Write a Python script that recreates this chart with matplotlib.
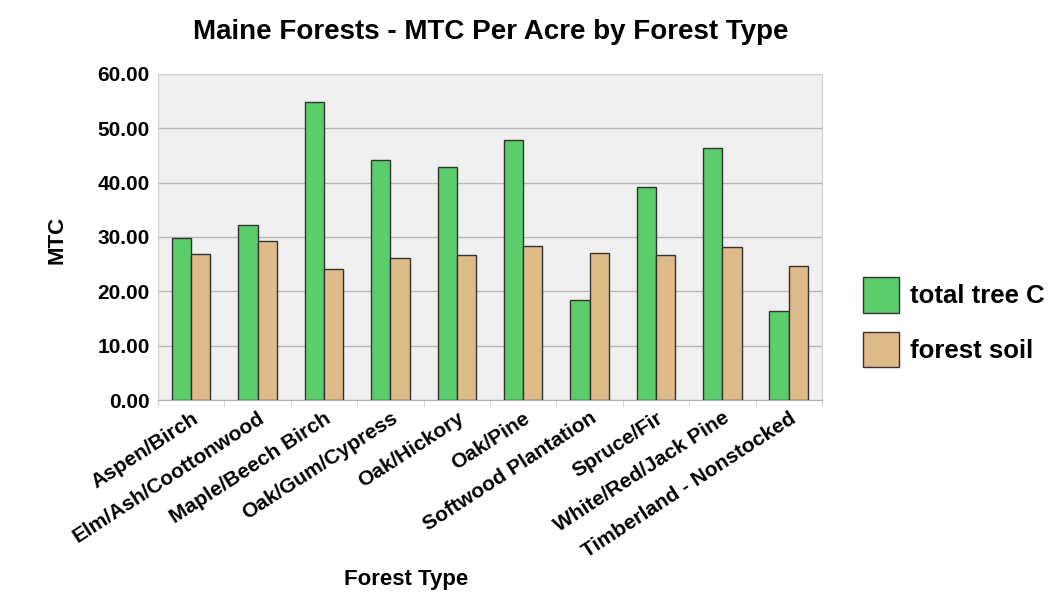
import matplotlib
matplotlib.use('Agg')
import matplotlib.pyplot as plt
import numpy as np

plt.rcParams['font.family'] = ['Liberation Sans', 'DejaVu Sans']

# Data (MTC per acre)
forest_types = ['Aspen/Birch', 'Elm/Ash/Coottonwood', 'Maple/Beech Birch',
                'Oak/Gum/Cypress', 'Oak/Hickory', 'Oak/Pine',
                'Softwood Plantation', 'Spruce/Fir', 'White/Red/Jack Pine',
                'Timberland - Nonstocked']
total_tree_c = [29.8, 32.2, 54.9, 44.2, 42.8, 47.9, 18.4, 39.2, 46.3, 16.4]
forest_soil = [26.8, 29.3, 24.1, 26.1, 26.7, 28.4, 27.0, 26.7, 28.1, 24.7]
y_ticks = [0, 10, 20, 30, 40, 50, 60]

green = '#5ccd6b'
tan = '#dfbb8a'

fig = plt.figure(figsize=(10.64, 6), dpi=100)
ax = fig.add_axes([0.1485, 0.333, 0.624, 0.544])
ax.set_facecolor('#f0f0f0')

x = np.arange(len(forest_types))
w = 0.29
ax.bar(x - w / 2, total_tree_c, w, color=green, edgecolor='#333333',
       linewidth=1.0, label='total tree C', zorder=3)
ax.bar(x + w / 2, forest_soil, w, color=tan, edgecolor='#333333',
       linewidth=1.0, label='forest soil', zorder=3)

ax.set_xlim(-0.5, len(forest_types) - 0.5)
ax.set_ylim(0, 60)
ax.set_yticks(y_ticks)
ax.set_yticklabels([f'{v:.2f}' for v in y_ticks], fontsize=15, fontweight='bold')
ax.set_xticks(x)
ax.set_xticklabels(forest_types, rotation=33, ha='right', rotation_mode='anchor',
                   fontsize=15, fontweight='bold')
ax.tick_params(axis='both', length=0, pad=6)
ax.set_xticks(np.arange(-0.5, len(forest_types), 1.0), minor=True)
ax.tick_params(axis='x', which='minor', length=4, color='#c8c8c8')
ax.grid(axis='y', color='#b8b8b8', linewidth=1.0, zorder=0)
for side in ['top', 'right', 'left']:
    ax.spines[side].set_color('#d0d0d0')
ax.spines['bottom'].set_color('#b0b0b0')

fig.text(57 / 1064, 1 - 240 / 600, 'MTC', fontsize=16, fontweight='bold',
         rotation=90, ha='center', va='center')
fig.text(406 / 1064, 1 - 580 / 600, 'Forest Type', fontsize=16, fontweight='bold',
         ha='center', va='center')
fig.text(491 / 1064, 1 - 32 / 600, 'Maine Forests - MTC Per Acre by Forest Type',
         fontsize=20, fontweight='bold', ha='center', va='center')

fig.legend(loc='center left', bbox_to_anchor=(0.789, 0.463), frameon=False,
           prop={'size': 18.5, 'weight': 'bold'}, handlelength=1.4,
           handleheight=1.75, labelspacing=0.75, handletextpad=0.45)

fig.savefig('out.png', dpi=100)
